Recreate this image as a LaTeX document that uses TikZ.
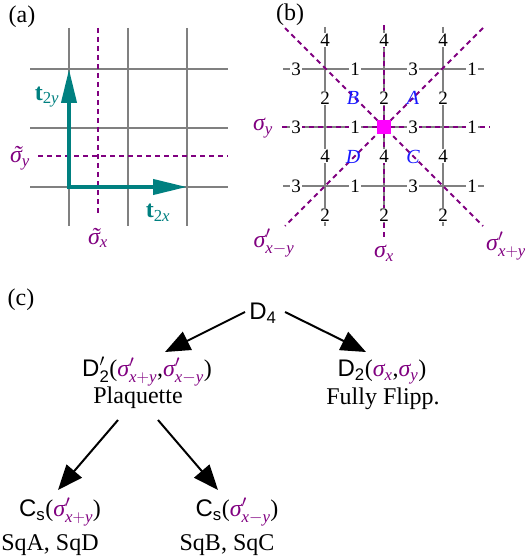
\documentclass[tikz,border=0pt]{standalone}
\usepackage{amsmath}
\usepackage{fontspec}
\setmainfont{Liberation Serif}
\newfontfamily\hsf{Liberation Sans}
\usetikzlibrary{arrows.meta,calc}
\definecolor{sigc}{RGB}{128,0,128}
\definecolor{tealc}{RGB}{0,128,128}
\definecolor{pinkc}{RGB}{255,0,255}
\definecolor{gridc}{RGB}{128,128,128}
\definecolor{lblue}{RGB}{25,25,255}
\newcommand{\msig}{\text{\itshape σ}}
\newcommand{\tsig}{\text{\itshape\makebox[0pt][l]{\hspace{0.14em}˜}σ}}
\newcommand{\ix}{\text{\itshape x}}
\newcommand{\iy}{\text{\itshape y}}
\newcommand{\lp}{\text{(}}
\newcommand{\rp}{\text{)}}
\newcommand{\cm}{\text{,}}
\begin{document}
\begin{tikzpicture}[x=1pt,y=-1pt,
  txt/.style={font=\fontsize{24}{28}\selectfont, inner sep=0pt},
  num/.style={font=\fontsize{19}{21}\selectfont, fill=white, inner sep=1pt},
  lett/.style={font=\fontsize{20}{22}\selectfont\itshape, text=lblue, inner sep=0pt},
  gridln/.style={draw=gridc, line width=2pt},
  sym/.style={draw=sigc, line width=2pt, dash pattern=on 5pt off 4pt},
  tvec/.style={draw=tealc, line width=4pt, -{Triangle[length=34pt,width=15pt]}},
  harr/.style={draw=black, line width=2pt, -{Triangle[length=25pt,width=20pt]}},
]
\useasboundingbox (0,0) rectangle (524,556);

% ---------- panel (a)
\node[txt] (la) at (22,17) {(a)};
\foreach \v in {69,128,187} \draw[gridln] (\v,28) -- (\v,226);
\foreach \h in {69,128,187} \draw[gridln] (30,\h) -- (228,\h);
\draw[sym] (98,28) -- (98,216);
\draw[sym] (38,156) -- (228,156);
\node[txt,text=sigc] (stx) at (98,238) {$\tsig_{\ix}$};
\node[txt,text=sigc] (sty) at (20,158) {$\tsig_{\iy}$};
\coordinate (org) at (69,187);
\coordinate (ty) at (69,69);
\coordinate (tx) at (187,187);
\draw[tvec] ([yshift=-2pt]org) -- (ty);
\draw[tvec] ([xshift=-2pt]org) -- (tx);
\node[txt,text=tealc] (lty) at (47,97) {$\text{\bfseries t}_{\text{2}\iy}$};
\node[txt,text=tealc] (ltx) at (158,213) {$\text{\bfseries t}_{\text{2}\ix}$};

% ---------- panel (b)
\node[txt] (lb) at (290,15) {(b)};
\foreach \v in {325,384,443} \draw[gridln] (\v,27) -- (\v,226);
\foreach \h in {69,127,186} \draw[gridln] (283,\h) -- (484,\h);
\draw[sym] (384,25) -- (384,240);
\draw[sym] (282,127) -- (490,127);
\draw[sym] (285,28) -- (483,226);
\draw[sym] (483,28) -- (285,226);
\foreach \c in {325,384,443} {
  \node[num] at (\c,40) {4};
  \node[num] at (\c,98) {2};
  \node[num] at (\c,156) {4};
  \node[num] at (\c,215) {2};
}
\foreach \r in {69,127,186} {
  \node[num] at (296,\r) {3};
  \node[num] at (355,\r) {1};
  \node[num] at (413,\r) {3};
  \node[num] at (472,\r) {1};
}
\node[fill=pinkc, minimum size=14pt, inner sep=0pt] (ctr) at (384,127) {};
\node[lett] (pB) at (353,98) {B};
\node[lett] (pA) at (413,98) {A};
\node[lett] (pD) at (353,157) {D};
\node[lett] (pC) at (413,157) {C};
\node[txt,text=sigc] (sy) at (263,128) {$\msig_{\iy}$};
\node[txt,text=sigc] (sx) at (384,253) {$\msig_{\ix}$};
\node[txt,text=sigc] (sxmy) at (274,243) {$\msig'_{\ix-\iy}$};
\node[txt,text=sigc,anchor=west] (sxpy) at (486,246) {$\msig'_{\ix+\iy}$};

% ---------- panel (c)
\node[txt] (lc) at (21,300) {(c)};
\node[txt] (d4) at (263,313) {$\text{\hsf D}_{\text{\hsf 4}}$};
\node[txt] (d2p) at (147,372) {$\text{\hsf D}'_{\text{\hsf 2}}\lp\textcolor{sigc}{\msig'_{\ix+\iy}}\cm\textcolor{sigc}{\msig'_{\ix-\iy}}\rp$};
\node[txt] (plaq) at (138,398) {Plaquette};
\node[txt] (d2) at (382,372) {$\text{\hsf D}_{\text{\hsf 2}}\lp\textcolor{sigc}{\msig_{\ix}}\cm\textcolor{sigc}{\msig_{\iy}}\rp$};
\node[txt] (ffl) at (383,399) {Fully Flipp.};
\node[txt] (csa) at (60,512) {$\text{\hsf C}_{\text{\hsf s}}\lp\textcolor{sigc}{\msig'_{\ix+\iy}}\rp$};
\node[txt] (sqa) at (50,545) {SqA, SqD};
\node[txt] (csb) at (237,512) {$\text{\hsf C}_{\text{\hsf s}}\lp\textcolor{sigc}{\msig'_{\ix-\iy}}\rp$};
\node[txt] (sqb) at (227,545) {SqB, SqC};

\draw[harr] ($(d4)+(-18,-1)$) -- ($(d2p)+(18,-20)$);
\draw[harr] ($(d4)+(22,-1)$) -- ($(d2)+(-16,-20)$);
\draw[harr] ($(plaq)+(-20,22)$) -- ($(csa)+(-2,-22)$);
\draw[harr] ($(plaq)+(20,22)$) -- ($(csb)+(-19,-22)$);
\end{tikzpicture}
\end{document}
